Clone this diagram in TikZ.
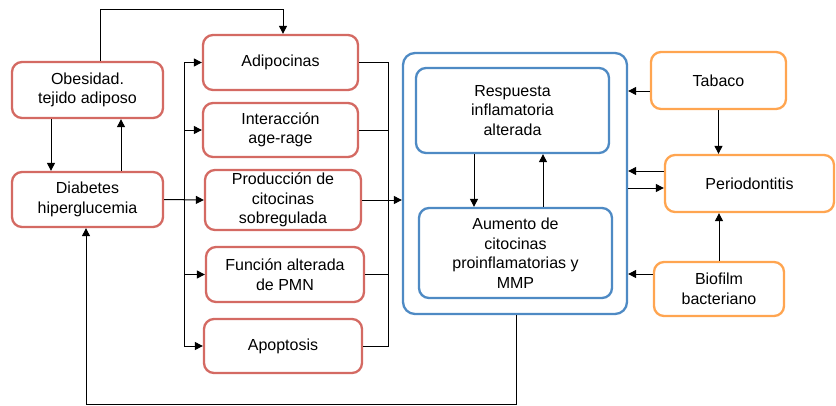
\documentclass[tikz,border=0pt]{standalone}
\usepackage{fontspec}
\setmainfont{Liberation Sans}
\usetikzlibrary{arrows.meta}
\definecolor{myred}{HTML}{D46A63}
\definecolor{myblue}{HTML}{4E8AC4}
\definecolor{myorange}{HTML}{FFA550}
\tikzstyle{box}=[rectangle,rounded corners=10pt,line width=2.3pt,fill=white,align=center,inner sep=2pt,font=\fontsize{16}{19.5}\selectfont]
\tikzstyle{redbox}=[box,draw=myred]
\tikzstyle{bluebox}=[box,draw=myblue]
\tikzstyle{orangebox}=[box,draw=myorange]
\tikzstyle{link}=[line width=1pt]
\tikzstyle{arr}=[link,-{Triangle[length=8pt,width=8pt]}]

\begin{document}
\begin{tikzpicture}[x=1pt,y=-1pt]
    \useasboundingbox (0,0) rectangle (836,405);

    % left column
    \node[redbox, minimum width=151pt, minimum height=56pt] (obes) at (87.5,90) {Obesidad.\\tejido adiposo};
    \node[redbox, minimum width=151pt, minimum height=55pt] (diab) at (87.5,199.5) {Diabetes\\hiperglucemia};

    % middle column
    \node[redbox, minimum width=155pt, minimum height=55pt] (adip) at (280.5,62.5) {Adipocinas};
    \node[redbox, minimum width=155pt, minimum height=54pt] (inter) at (280.5,130) {Interacci\'on\\age-rage};
    \node[redbox, minimum width=156pt, minimum height=60pt] (prod) at (283,200) {Producci\'on de\\citocinas\\sobregulada};
    \node[redbox, minimum width=158pt, minimum height=55pt] (func) at (285,274.5) {Funci\'on alterada\\de PMN};
    \node[redbox, minimum width=158pt, minimum height=54pt] (apop) at (283,346) {Apoptosis};

    % blue block
    \node[bluebox, rounded corners=12pt, minimum width=224pt, minimum height=261pt] (outer) at (515,183.5) {};
    \node[bluebox, minimum width=193pt, minimum height=85pt] (resp) at (512.5,110.5) {Respuesta\\inflamatoria\\alterada};
    \node[bluebox, minimum width=193pt, minimum height=90pt] (aum) at (515.5,253) {Aumento de\\citocinas\\proinflamatorias y\\MMP};

    % right column
    \node[orangebox, minimum width=135pt, minimum height=57pt] (tab) at (718.5,80.5) {Tabaco};
    \node[orangebox, minimum width=169pt, minimum height=57pt] (perio) at (749.5,183.5) {Periodontitis};
    \node[orangebox, minimum width=130pt, minimum height=54pt] (bio) at (719,289) {Biofilm\\bacteriano};

    \coordinate (rbus) at (388,200);

    % left links
    \draw[arr] ([xshift=-36.5pt]obes.south) -- ([xshift=-36.5pt]diab.north);
    \draw[arr] ([xshift=33.5pt]diab.north) -- ([xshift=33.5pt]obes.south);
    \draw[arr] ([xshift=12.5pt]obes.north) -- ++(0,-51) -| ([xshift=2.5pt]adip.north);

    \draw[arr] (diab.east) -- ++(20,0) |- (adip.west);
    \draw[arr] (diab.east) -- ++(20,0) |- (inter.west);
    \draw[arr] (diab.east) -- (prod.west);
    \draw[arr] (diab.east) -- ++(20,0) |- (func.west);
    \draw[arr] (diab.east) -- ++(20,0) |- (apop.west);

    % right bus
    \draw[link] (adip.east) -| (rbus);
    \draw[link] (inter.east) -| (rbus);
    \draw[link] (func.east) -| (rbus);
    \draw[link] (apop.east) -| (rbus);
    \draw[arr] (prod.east) -- (prod.east -| outer.west);

    % inside blue block
    \draw[arr] ([xshift=-38.5pt]resp.south) -- ([xshift=-38.5pt]resp.south |- aum.north);
    \draw[arr] ([xshift=30.5pt]resp.south |- aum.north) -- ([xshift=30.5pt]resp.south);

    % orange links
    \draw[arr] ([yshift=-10.5pt]tab.west) -- ([yshift=-10.5pt]tab.west -| outer.east);
    \draw[arr] (tab.south) -- (tab.south |- perio.north);
    \draw[arr] ([yshift=12.5pt]perio.west) -- ([yshift=12.5pt]perio.west -| outer.east);
    \draw[arr] ([yshift=-4.5pt]perio.west -| outer.east) -- ([yshift=-4.5pt]perio.west);
    \draw[arr] ([yshift=15pt]bio.west) -- ([yshift=15pt]bio.west -| outer.east);
    \draw[arr] (bio.north) -- (bio.north |- perio.south);

    % feedback
    \draw[arr] ([xshift=1pt]outer.south) -- ++(0,89) -| ([xshift=-1.5pt]diab.south);
\end{tikzpicture}
\end{document}
